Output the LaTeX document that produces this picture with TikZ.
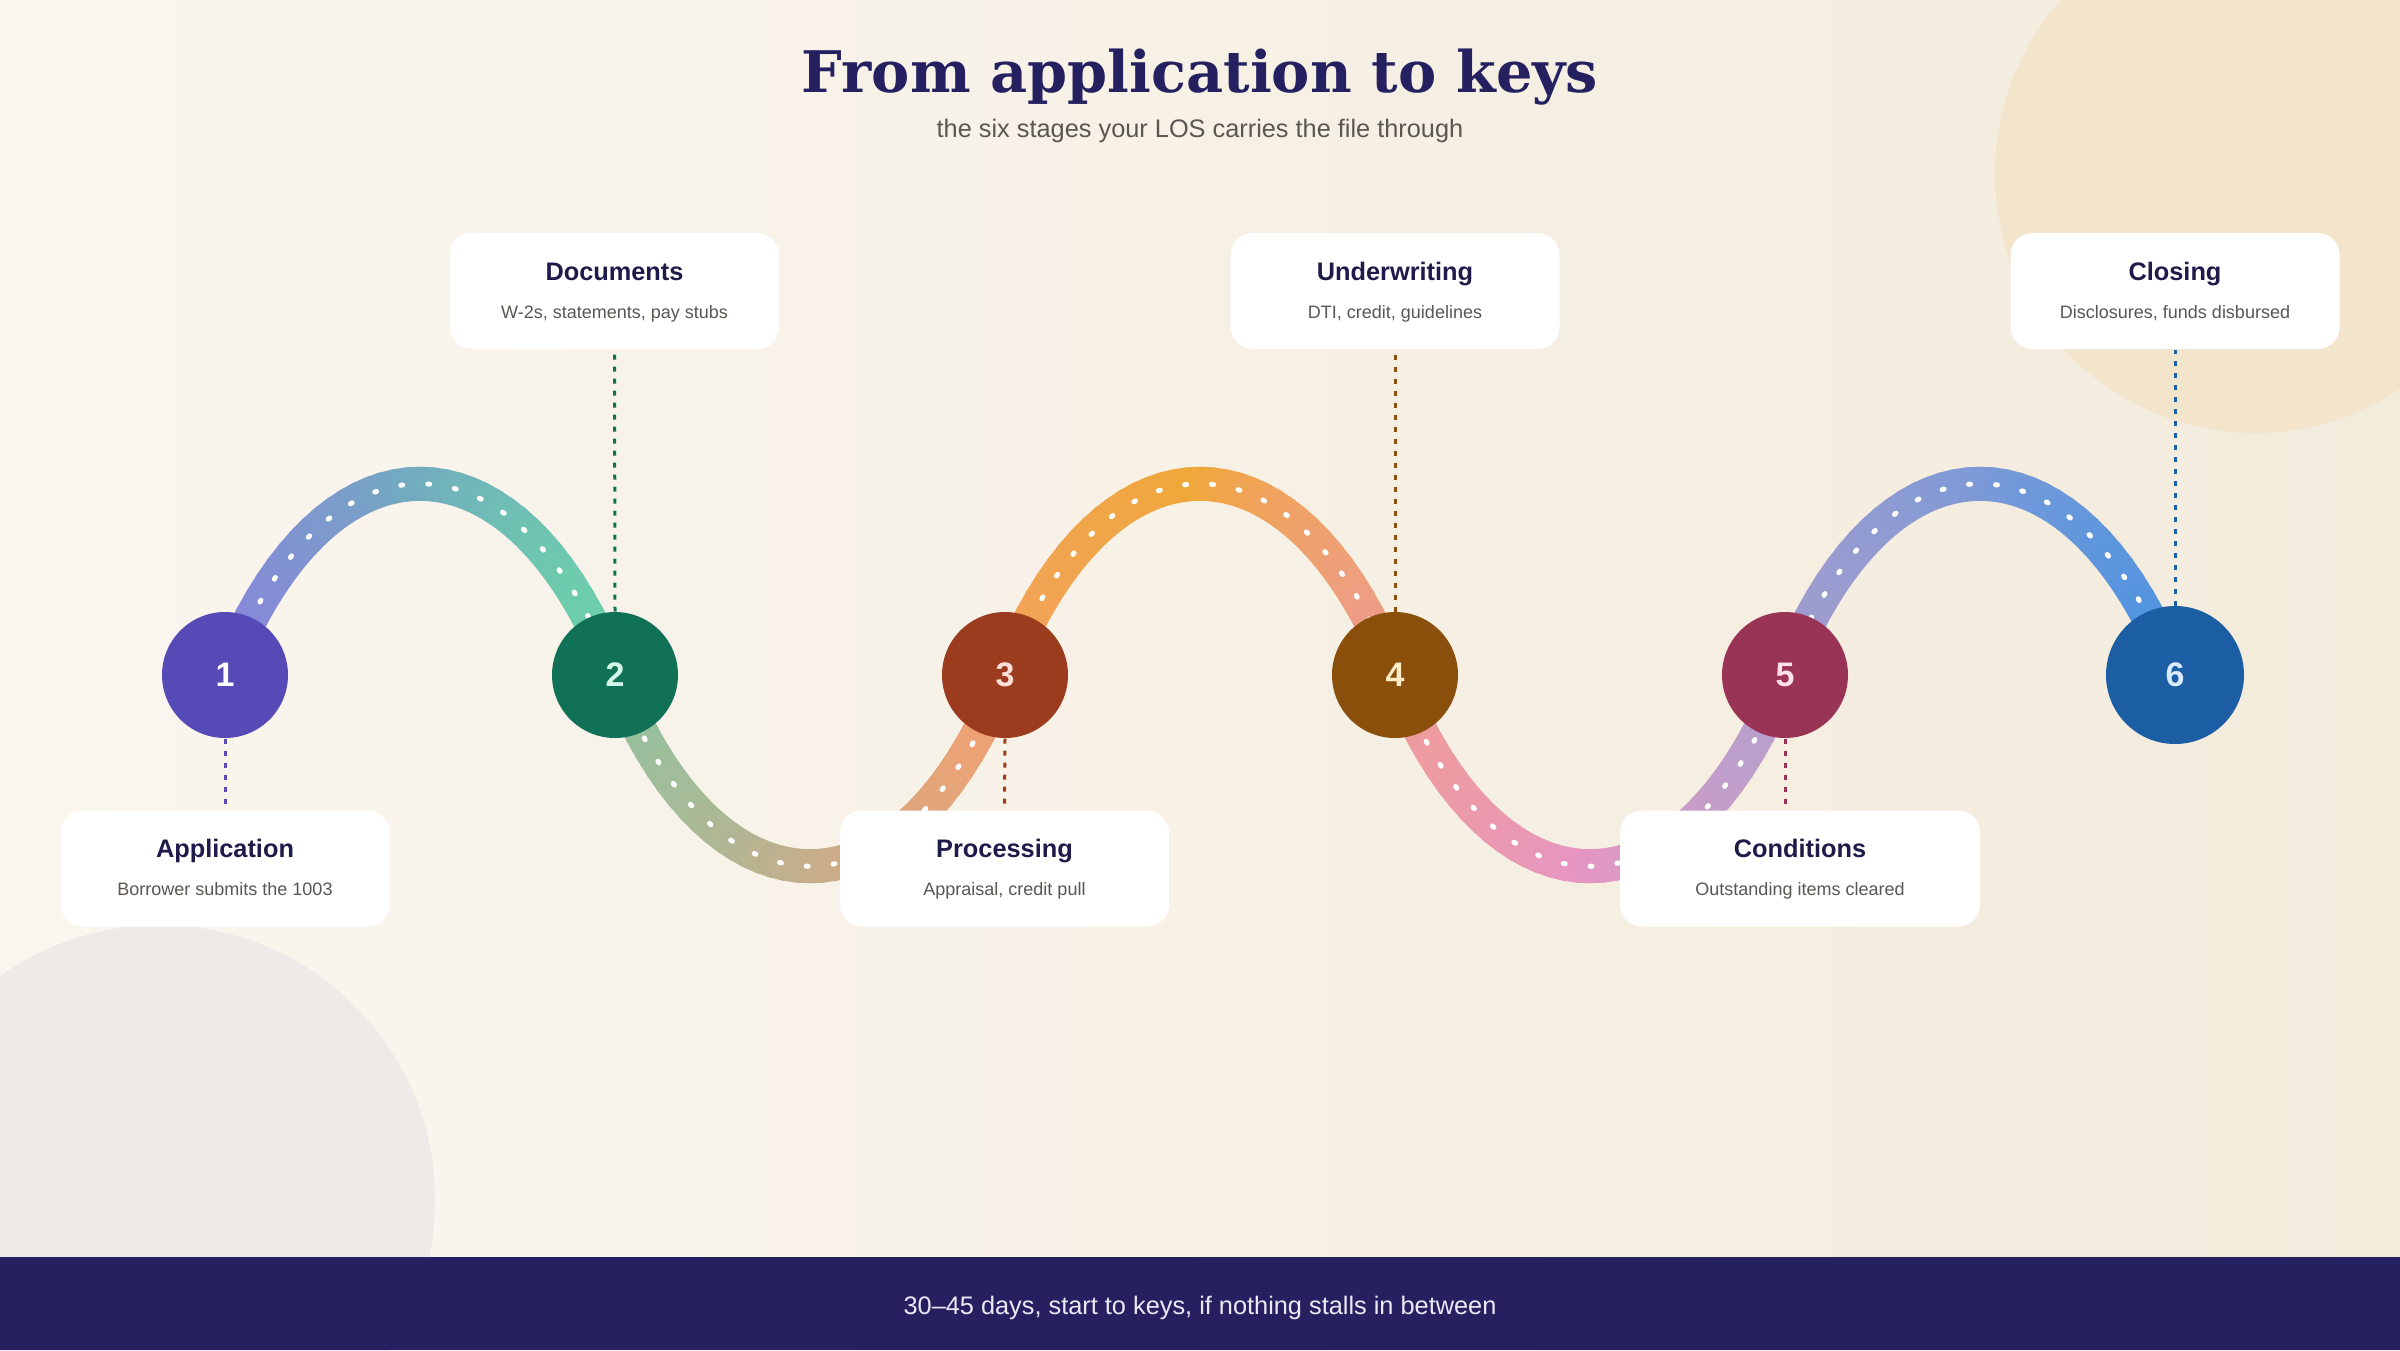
\documentclass[tikz,border=0pt]{standalone}
\usepackage{fontspec}
\setmainfont{Liberation Sans}
\newfontfamily\serifhead{DejaVu Serif}

\definecolor{bgleft}{HTML}{FAF6EF}
\definecolor{bgright}{HTML}{F3EBDC}
\definecolor{blobwarm}{HTML}{F3E5CC}
\definecolor{blobcool}{HTML}{EFE9E8}
\definecolor{headink}{HTML}{252060}
\definecolor{ink}{HTML}{1E1B4B}
\definecolor{note}{HTML}{5A5652}
\definecolor{footbg}{HTML}{262060}
\definecolor{foottext}{HTML}{ECE9F5}
% stage colours
\definecolor{st1}{HTML}{554AB6}
\definecolor{st2}{HTML}{107157}
\definecolor{st3}{HTML}{9B3C1F}
\definecolor{st4}{HTML}{8A4F0B}
\definecolor{st5}{HTML}{9A3456}
\definecolor{st6}{HTML}{1B5EA4}
\definecolor{nm2}{HTML}{D5F5E8}
\definecolor{nm3}{HTML}{FDE0D8}
\definecolor{nm4}{HTML}{FDECC8}
\definecolor{nm5}{HTML}{FDE0EA}
\definecolor{nm6}{HTML}{DBEAFE}
% road colours (left, middle, right of each stretch)
\definecolor{rd1a}{HTML}{8A84DC}
\definecolor{rd1b}{HTML}{72AAC0}
\definecolor{rd1c}{HTML}{6CD3A8}
\definecolor{rd2a}{HTML}{90C4A0}
\definecolor{rd2b}{HTML}{C4AE8C}
\definecolor{rd2c}{HTML}{F2A072}
\definecolor{rd3a}{HTML}{F2A25A}
\definecolor{rd3b}{HTML}{F0A83A}
\definecolor{rd3c}{HTML}{EE9C8E}
\definecolor{rd4a}{HTML}{F09C98}
\definecolor{rd4b}{HTML}{E696C2}
\definecolor{rd4c}{HTML}{B4A0CC}
\definecolor{rd5a}{HTML}{A49CCC}
\definecolor{rd5b}{HTML}{7F9AD6}
\definecolor{rd5c}{HTML}{4E94E0}

\tikzset{every picture/.style={line width=0.75pt}}

\begin{document}
\begin{tikzpicture}[x=0.75pt,y=0.75pt,yscale=-1,xscale=1,
	road/.style={line width=25.5pt, line cap=round},
	roaddots/.style={white, line width=3.75pt, line cap=round, dash pattern=on 1.5pt off 18.75pt},
	stage/.style={circle, inner sep=0pt, minimum size=94.5pt, font=\bfseries\fontsize{25.5}{30}\selectfont},
	card/.style={fill=white, rounded corners=16.5pt, minimum width=246.75pt, minimum height=87pt, inner sep=0pt},
	cardtitle/.style={anchor=base, text=ink, font=\bfseries\fontsize{19}{23}\selectfont},
	cardnote/.style={anchor=base, text=note, font=\fontsize{13.5}{16}\selectfont},
	link/.style={line width=2.25pt, dash pattern=on 3.75pt off 5.25pt}]
	\useasboundingbox (0,0) rectangle (2400,1350);

	%Shape: Rectangle [background]
	\shade [left color=bgleft, right color=bgright] (0,0) rectangle (2400,1350);
	%Shape: Circle [top right blob]
	\fill [blobwarm] (2255,173) circle [radius=260];
	%Shape: Circle [bottom left blob]
	\fill [blobcool] (160,1200) circle [radius=275];

	% stage points
	\coordinate (p1) at (225,675);
	\coordinate (p2) at (615,675);
	\coordinate (p3) at (1005,675);
	\coordinate (p4) at (1395,675);
	\coordinate (p5) at (1785,675);
	\coordinate (p6) at (2175,675);

	%Shape: Road, cut in short pieces so the colour can run along it
	\foreach \s/\d/\ca/\cb/\cc in {1/1/rd1a/rd1b/rd1c, 2/-1/rd2a/rd2b/rd2c, 3/1/rd3a/rd3b/rd3c, 4/-1/rd4a/rd4b/rd4c, 5/1/rd5a/rd5b/rd5c}{
		\pgfmathsetmacro\xo{225+390*(\s-1)}
		\foreach \i in {1,...,36}{
			\pgfmathsetmacro\ta{(\i-1)/36}
			\pgfmathsetmacro\tb{\i/36}
			\pgfmathsetmacro\ua{300*\ta*(1-\ta)^2+870*\ta^2*(1-\ta)+390*\ta^3}
			\pgfmathsetmacro\ub{300*\tb*(1-\tb)^2+870*\tb^2*(1-\tb)+390*\tb^3}
			\pgfmathsetmacro\xa{\xo+\ua}
			\pgfmathsetmacro\xb{\xo+\ub}
			\pgfmathsetmacro\ya{675-(\d)*765*\ta*(1-\ta)}
			\pgfmathsetmacro\yb{675-(\d)*765*\tb*(1-\tb)}
			\pgfmathtruncatemacro\pa{min(200,max(0,round((\ua+\ub)/3.9)))}
			\ifnum\pa<100
				\colorlet{piece}{\cb!\pa!\ca}
			\else
				\pgfmathtruncatemacro\pb{\pa-100}
				\colorlet{piece}{\cc!\pb!\cb}
			\fi
			\draw [road, draw=piece] (\xa,\ya) -- (\xb,\yb);
		}
	}
	%Curve Lines [road dots]
	\draw [roaddots] (p1) .. controls +(100,-255) and +(-100,-255) .. (p2)
		.. controls +(100,255) and +(-100,255) .. (p3)
		.. controls +(100,-255) and +(-100,-255) .. (p4)
		.. controls +(100,255) and +(-100,255) .. (p5)
		.. controls +(100,-255) and +(-100,-255) .. (p6);

	%Shape: Circle [stages]
	\node [stage, fill=st1, text=white] (c1) at (p1) {1};
	\node [stage, fill=st2, text=nm2] (c2) at (p2) {2};
	\node [stage, fill=st3, text=nm3] (c3) at (p3) {3};
	\node [stage, fill=st4, text=nm4] (c4) at (p4) {4};
	\node [stage, fill=st5, text=nm5] (c5) at (p5) {5};
	\node [stage, fill=st6, text=nm6, minimum size=103.5pt] (c6) at (p6) {6};

	%Shape: Rounded Rect [cards]
	\node [card] (k1) at (225,868.5) {};
	\node [card] (k2) at (614.5,291) {};
	\node [card] (k3) at (1004.5,868.5) {};
	\node [card] (k4) at (1395,291) {};
	\node [card, minimum width=270pt] (k5) at (1800,868.5) {};
	\node [card] (k6) at (2175,291) {};

	%Straight Lines [dotted leaders]
	\draw [link, st1] (c1.south) -- (k1.north);
	\draw [link, st2] (c2.north) -- (k2.south);
	\draw [link, st3] (c3.south) -- (k3.north);
	\draw [link, st4] (c4.north) -- (k4.south);
	\draw [link, st5] (c5.south) -- (c5.south |- k5.north);
	\draw [link, st6] (c6.north) -- (k6.south);

	% Text Node
	\draw (225,857.5) node [cardtitle] (t1) {Application};
	% Text Node
	\draw (225,895.5) node [cardnote] (n1) {Borrower submits the 1003};
	% Text Node
	\draw (614.5,280.5) node [cardtitle] (t2) {Documents};
	% Text Node
	\draw (614.5,318.5) node [cardnote] (n2) {W-2s, statements, pay stubs};
	% Text Node
	\draw (1004.5,857.5) node [cardtitle] (t3) {Processing};
	% Text Node
	\draw (1004.5,895.5) node [cardnote] (n3) {Appraisal, credit pull};
	% Text Node
	\draw (1395,280.5) node [cardtitle] (t4) {Underwriting};
	% Text Node
	\draw (1395,318.5) node [cardnote] (n4) {DTI, credit, guidelines};
	% Text Node
	\draw (1800,857.5) node [cardtitle] (t5) {Conditions};
	% Text Node
	\draw (1800,895.5) node [cardnote] (n5) {Outstanding items cleared};
	% Text Node
	\draw (2175,280.5) node [cardtitle] (t6) {Closing};
	% Text Node
	\draw (2175,318.5) node [cardnote] (n6) {Disclosures, funds disbursed};

	% Text Node
	\draw (1200,92) node [anchor=base, text=headink, font=\serifhead\bfseries\fontsize{43}{51}\selectfont] (title) {From application to keys};
	% Text Node
	\draw (1200,137) node [anchor=base, text=note, font=\fontsize{19}{23}\selectfont] (subtitle) {the six stages your LOS carries the file through};

	%Shape: Rectangle [footer]
	\fill [footbg] (0,1257) rectangle (2400,1350);
	% Text Node
	\draw (1200,1314) node [anchor=base, text=foottext, font=\fontsize{19}{23}\selectfont] (footer) {30–45 days, start to keys, if nothing stalls in between};

\end{tikzpicture}
\end{document}
